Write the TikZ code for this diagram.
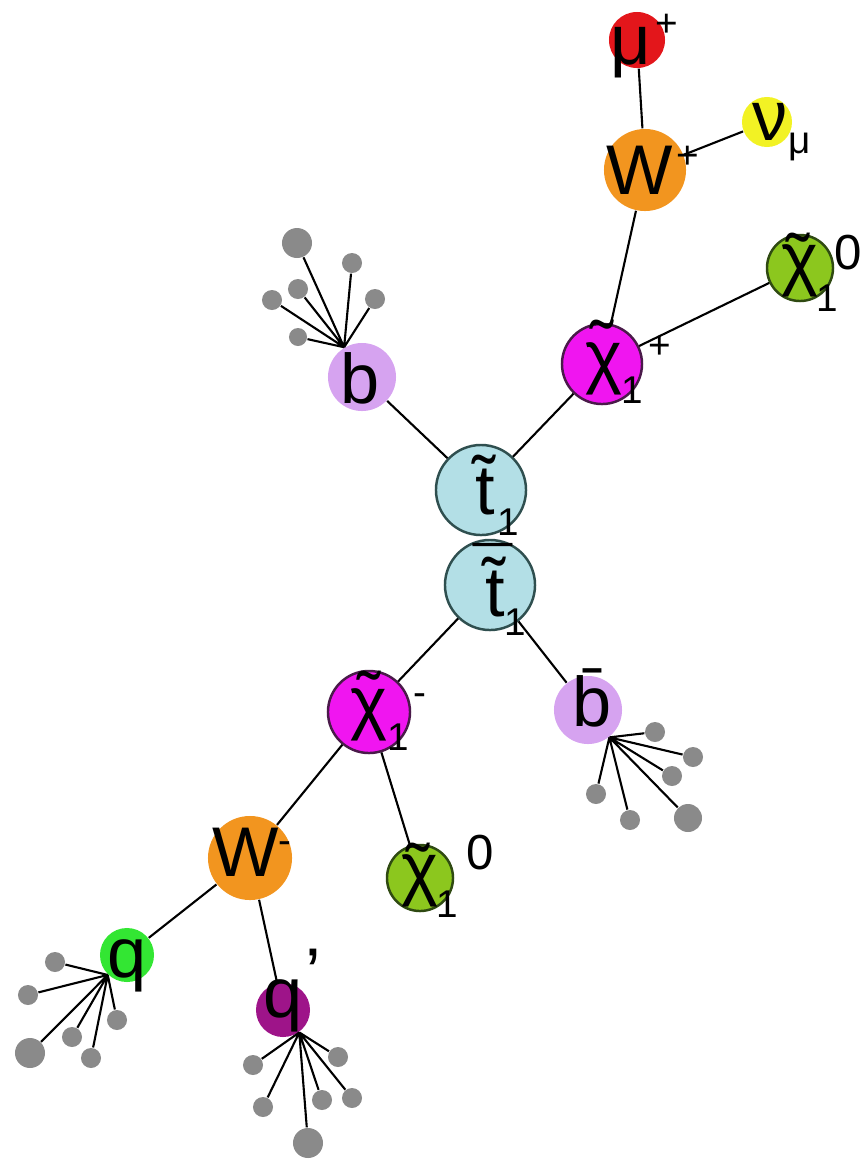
\documentclass[tikz,border=0pt]{standalone}
\usepackage{fontspec}
\setmainfont{Liberation Sans}
\usepackage{xcolor}

\definecolor{muonred}{HTML}{E3161B}
\definecolor{wboson}{HTML}{F2951F}
\definecolor{nuyellow}{HTML}{F2F224}
\definecolor{chimag}{HTML}{F015F0}
\definecolor{chirim}{HTML}{4A1A4A}
\definecolor{neutgreen}{HTML}{8CC71E}
\definecolor{neutrim}{HTML}{2F4A12}
\definecolor{blilac}{HTML}{D6A3F0}
\definecolor{stopblue}{HTML}{B3DFE6}
\definecolor{stoprim}{HTML}{2F4F4F}
\definecolor{qgreen}{HTML}{33E633}
\definecolor{qpurple}{HTML}{9E1489}
\definecolor{jetgray}{HTML}{8A8A8A}

\tikzset{
  ptcl/.style={circle, inner sep=0pt, minimum size=#1},
  rim/.style={draw=#1, line width=0.7pt},
  big/.style={font=\fontsize{20}{20}\selectfont, inner sep=0pt},
  small/.style={font=\fontsize{11}{11}\selectfont, inner sep=0pt},
  tx/.style n args={3}{label={[big, xshift=#1mm, yshift=#2mm]center:#3}},
  sc/.style n args={3}{label={[small, xshift=#1mm, yshift=#2mm]center:#3}},
  jet/.style={circle, inner sep=0pt, fill=jetgray, minimum size=#1},
  jet/.default=2mm,
  link/.style={line width=0.6pt}
}
\newcommand\zero{\fontsize{14}{14}\selectfont 0}

\begin{document}
\begin{tikzpicture}[x=0.01cm, y=-0.01cm]
  \useasboundingbox (0,0) rectangle (860,1160);

  % decay chain of the stop pair
  \node[ptcl=5.6mm, fill=muonred, tx={-0.6}{-1.3}{μ}, sc={3.0}{1.5}{+}] (mu) at (637,40) {};
  \node[ptcl=8.2mm, fill=wboson, tx={-0.5}{0}{W}, sc={4.3}{1.3}{+}] (Wp) at (645,170) {};
  \node[ptcl=5mm, fill=nuyellow, tx={0.3}{0}{ν}, sc={3.3}{-2.5}{μ}] (nu) at (767,122) {};
  \node[ptcl=8mm, fill=chimag, rim=chirim, tx={0.2}{-0.5}{χ}, tx={0}{1.9}{˜}, sc={3.0}{-2.6}{1}, sc={5.8}{1.7}{+}] (chip) at (602,364) {};
  \node[ptcl=6.6mm, fill=neutgreen, rim=neutrim, tx={0}{-0.3}{χ}, tx={-0.2}{1.0}{˜}, sc={2.7}{-3.0}{1}, tx={4.8}{1.5}{\zero}] (chia) at (800,268) {};
  \node[ptcl=6.8mm, fill=blilac, tx={-0.2}{-0.1}{b}] (b) at (362,377) {};
  \node[ptcl=9mm, fill=stopblue, rim=stoprim, tx={0.4}{0.5}{t̃}, sc={2.7}{-3.2}{1}] (t) at (481,490) {};
  \node[ptcl=9mm, fill=stopblue, rim=stoprim, tx={0.5}{-0.2}{t̃}, tx={0.3}{1.5}{¯}, sc={2.5}{-3.7}{1}] (tb) at (490,585) {};
  \node[ptcl=8.2mm, fill=chimag, rim=chirim, tx={0}{-0.3}{χ}, tx={0}{1.6}{˜}, sc={2.9}{-2.5}{1}, sc={5.1}{1.2}{-}] (chim) at (369,712) {};
  \node[ptcl=6.8mm, fill=blilac, tx={0.4}{1.2}{\=b}] (bb) at (588,710) {};
  \node[ptcl=6.6mm, fill=neutgreen, rim=neutrim, tx={0}{-0.3}{χ}, tx={-0.2}{1.0}{˜}, sc={2.7}{-2.6}{1}, tx={6.0}{2.5}{\zero}] (chib) at (420,878) {};
  \node[ptcl=8.4mm, fill=wboson, tx={-0.4}{0.6}{W}, sc={3.5}{1.0}{-}] (Wm) at (250,858) {};
  \node[ptcl=5.4mm, fill=qgreen, tx={0}{-1.1}{q}] (q) at (127,955) {};
  \node[ptcl=5.4mm, fill=qpurple, tx={0}{0.4}{q}, tx={3.0}{3.7}{’}] (qp) at (283,1010) {};

  \draw[link] (mu) -- (Wp) (Wp) -- (nu) (Wp) -- (chip) (chip) -- (chia)
    (chip) -- (t) (b) -- (t) (tb) -- (chim) (tb) -- (bb)
    (chim) -- (Wm) (chim) -- (chib) (Wm) -- (q) (Wm) -- (qp);

  % jets
  \coordinate (bhub) at (b.121);
  \node[jet=3mm] (b1) at (297,243) {};
  \node[jet] (b2) at (352,263) {};
  \node[jet] (b3) at (298,289) {};
  \node[jet] (b4) at (272,300) {};
  \node[jet] (b5) at (375,299) {};
  \node[jet=1.8mm] (b6) at (298,337) {};
  \draw[link] (bhub) -- (b1) (bhub) -- (b2) (bhub) -- (b3)
    (bhub) -- (b4) (bhub) -- (b5) (bhub) -- (b6);

  \coordinate (bbhub) at (bb.-52);
  \node[jet] (bb1) at (655,732) {};
  \node[jet] (bb2) at (693,757) {};
  \node[jet] (bb3) at (672,776) {};
  \node[jet] (bb4) at (596,794) {};
  \node[jet] (bb5) at (630,820) {};
  \node[jet=2.8mm] (bb6) at (688,818) {};
  \draw[link] (bbhub) -- (bb1) (bbhub) -- (bb2) (bbhub) -- (bb3)
    (bbhub) -- (bb4) (bbhub) -- (bb5) (bbhub) -- (bb6);

  \coordinate (qhub) at (q.226);
  \node[jet] (q1) at (55,962) {};
  \node[jet] (q2) at (28,995) {};
  \node[jet] (q3) at (117,1020) {};
  \node[jet] (q4) at (72,1037) {};
  \node[jet=3mm] (q5) at (30,1053) {};
  \node[jet] (q6) at (91,1058) {};
  \draw[link] (qhub) -- (q1) (qhub) -- (q2) (qhub) -- (q3)
    (qhub) -- (q4) (qhub) -- (q5) (qhub) -- (q6);

  \coordinate (qphub) at (qp.-54);
  \node[jet] (qp1) at (253,1065) {};
  \node[jet] (qp2) at (338,1057) {};
  \node[jet] (qp3) at (263,1107) {};
  \node[jet] (qp4) at (322,1100) {};
  \node[jet] (qp5) at (352,1098) {};
  \node[jet=3mm] (qp6) at (308,1143) {};
  \draw[link] (qphub) -- (qp1) (qphub) -- (qp2) (qphub) -- (qp3)
    (qphub) -- (qp4) (qphub) -- (qp5) (qphub) -- (qp6);
\end{tikzpicture}
\end{document}
